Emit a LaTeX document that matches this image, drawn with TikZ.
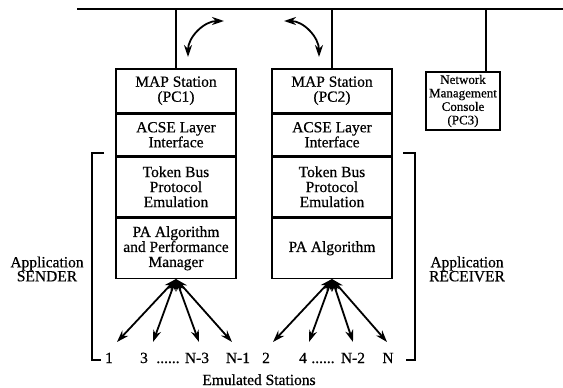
\documentclass[tikz,border=0pt]{standalone}
\usepackage{fontspec}
\setmainfont[FakeBold=0.6]{Liberation Serif}
\usetikzlibrary{arrows.meta}
\begin{document}
\begin{tikzpicture}[x=1pt,y=-1pt,
  layer/.style={draw,line width=1.5pt,minimum width=120pt,align=center,inner sep=0pt,font=\fontsize{15.5}{15}\selectfont},
  lbl/.style={font=\fontsize{15.5}{14}\selectfont,align=center,inner sep=0pt},
  stn/.style={font=\fontsize{15.5}{15}\selectfont,inner sep=0pt,anchor=base},
  wire/.style={line width=1.5pt},
  brk/.style={line width=1.2pt},
  dbl/.style={line width=1.8pt,{Stealth[length=12pt,width=8pt]}-{Stealth[length=12pt,width=8pt]}}
]
\useasboundingbox (0,0) rectangle (563,388);
% bus
\coordinate (busL) at (77,9);
\coordinate (busR) at (563,9);
\draw[line width=2.2pt] (busL) -- (busR);
% station 1
\node[layer,minimum height=44pt,anchor=north] (m1) at (176,68) {MAP Station\\(PC1)};
\node[layer,minimum height=41pt,anchor=north] (a1) at (m1.south) {ACSE Layer\\Interface};
\node[layer,minimum height=60pt,anchor=north] (t1) at (a1.south) {Token Bus\\Protocol\\Emulation};
\node[layer,minimum height=60pt,anchor=north] (p1) at (t1.south) {PA Algorithm\\and Performance\\Manager};
% station 2
\node[layer,minimum height=44pt,anchor=north] (m2) at (332,68) {MAP Station\\(PC2)};
\node[layer,minimum height=41pt,anchor=north] (a2) at (m2.south) {ACSE Layer\\Interface};
\node[layer,minimum height=60pt,anchor=north] (t2) at (a2.south) {Token Bus\\Protocol\\Emulation};
\node[layer,minimum height=60pt,anchor=north] (p2) at (t2.south) {PA Algorithm};
% console
\node[layer,font=\fontsize{13}{13.5}\selectfont,minimum width=74pt,minimum height=58pt] (nmc) at (463,101) {Network\\Management\\Console\\(PC3)};
% drops
\draw[wire] (m1.north) -- (m1.north |- busL);
\draw[wire] (m2.north) -- (m2.north |- busL);
\coordinate (c3) at (486,0);
\draw[wire] (nmc.north -| c3) -- (c3 |- busL);
% curved arrows
\coordinate (ca1) at (224,21);
\coordinate (cb1) at (188,57);
\draw[dbl] (ca1) to[out=180,in=90] (cb1);
\coordinate (ca2) at (284,21);
\coordinate (cb2) at (319,57);
\draw[dbl] (ca2) to[out=0,in=90] (cb2);
% emulated station arrows
\coordinate (sa1) at (117,342);
\coordinate (sa2) at (153,342);
\coordinate (sa3) at (199,342);
\coordinate (sa4) at (232,342);
\coordinate (sb1) at (273,342);
\coordinate (sb2) at (309,342);
\coordinate (sb3) at (353,342);
\coordinate (sb4) at (387,342);
\foreach \i in {1,2,3,4}{
  \draw[dbl] (p1.south) -- (sa\i);
  \draw[dbl] (p2.south) -- (sb\i);
}
% station labels
\node[stn] (n1) at (109,363) {1};
\node[stn] (n3) at (144,363) {3};
\node[stn] (d1) at (168,363) {......};
\node[stn] (nn3) at (197,363) {N-3};
\node[stn] (nn1) at (238,363) {N-1};
\node[stn] (n2) at (266,363) {2};
\node[stn] (n4) at (303,363) {4};
\node[stn] (d2) at (323,363) {......};
\node[stn] (nn2) at (353,363) {N-2};
\node[stn] (nn) at (388,363) {N};
\node[stn] (emu) at (259,385) {Emulated Stations};
% brackets
\draw[brk] (104,153) -- (92,153) -- (92,360) -- (101,360);
\draw[brk] (403,153) -- (415,153) -- (415,360) -- (406,360);
\node[lbl] (snd) at (47,269) {Application\\SENDER};
\node[lbl] (rcv) at (467,269) {Application\\RECEIVER};
\end{tikzpicture}
\end{document}
